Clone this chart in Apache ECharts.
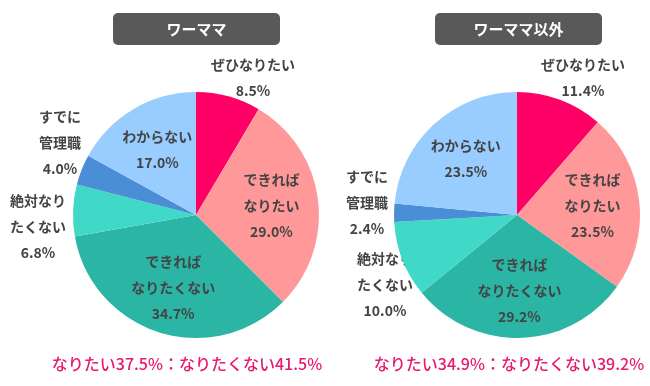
<!DOCTYPE html>
<html><head><meta charset="utf-8">
<script src="https://cdn.jsdelivr.net/npm/echarts@6/dist/echarts.min.js"></script>
<style>html,body{margin:0;padding:0;background:#fff}#c{width:650px;height:386px}</style>
</head><body><div id="c"></div>
<script>
const categories = ['ぜひなりたい','できればなりたい','できればなりたくない','絶対なりたくない','すでに管理職','わからない'];
const labelNames = ['ぜひなりたい','できれば\nなりたい','できれば\nなりたくない','絶対なり\nたくない','すでに\n管理職','わからない'];
const workingMomValues = [8.5, 29.0, 34.7, 6.8, 4.0, 17.0];
const otherValues = [11.4, 23.5, 29.2, 10.0, 2.4, 23.5];
const titles = ['ワーママ', 'ワーママ以外'];
const summaries = ['なりたい37.5%：なりたくない41.5%', 'なりたい34.9%：なりたくない39.2%'];
const colors = ['#FF0066','#FF9999','#2BB5A5','#40D9C8','#4A8FD6','#99CCFF'];
const outsideIdx = [0, 3, 4];

const FONT = '"Noto Sans CJK JP","Noto Sans",sans-serif';
const chart = echarts.init(document.getElementById('c'));

function pieData(vals) {
  return vals.map((v, i) => ({name: categories[i], value: v, itemStyle: {color: colors[i]}}));
}
function labelData(vals) {
  return vals.map((v, i) => ({
    name: categories[i], value: v,
    itemStyle: {color: 'rgba(0,0,0,0)'},
    label: {show: outsideIdx.indexOf(i) < 0}
  }));
}
function labelFmt(p) {
  const i = categories.indexOf(p.name);
  return labelNames[i] + '\n' + p.value.toFixed(1) + '%';
}
const labelStyle = {show:true, position:'inside', formatter: labelFmt, color:'#444', fontSize:14, fontWeight:'bold', fontFamily: FONT, lineHeight: 26};

// outside labels: [centerX, firstLineCenterY]
const outPos = [
  {0:[253,65], 3:[38,201], 4:[60,117]},
  {0:[583,65], 3:[385,259], 4:[367,177]}
];
const graphics = [];
[0,1].forEach(k => {
  const vals = k === 0 ? workingMomValues : otherValues;
  const bx = k === 0 ? 113 : 435;
  graphics.push({type:'rect', shape:{x:bx, y:13, width:167, height:32, r:5}, style:{fill:'#595959'}});
  graphics.push({type:'text', x: bx + 83.5, y: 29, style:{text: titles[k], fill:'#fff', font:'bold 15px ' + FONT, textAlign:'center', textVerticalAlign:'middle'}});
  graphics.push({type:'text', x: k === 0 ? 187 : 509, y: 364, style:{text: summaries[k], fill:'#E8176F', font:'500 16px ' + FONT, textAlign:'center', textVerticalAlign:'middle'}});
  outsideIdx.forEach(i => {
    const p = outPos[k][i];
    graphics.push({type:'text', x:p[0], y:p[1] - 13, style:{text: labelNames[i] + '\n' + vals[i].toFixed(1) + '%', fill:'#444', font:'bold 14px ' + FONT, lineHeight: 26, textAlign:'center', textVerticalAlign:'top'}});
  });
});

const common = {type:'pie', startAngle:90, clockwise:true, labelLine:{show:false}};
chart.setOption({
  animation:false,
  graphic: graphics,
  series: [
    Object.assign({}, common, {center:[196,215], radius:[0,123], label:{show:false}, data: pieData(workingMomValues)}),
    Object.assign({}, common, {center:[517,215], radius:[0,123], label:{show:false}, data: pieData(otherValues)}),
    Object.assign({}, common, {center:[196,215], radius:[0,146], silent:true, z:3, label: labelStyle, labelLayout:{hideOverlap:false}, data: labelData(workingMomValues)}),
    Object.assign({}, common, {center:[517,215], radius:[0,146], silent:true, z:3, label: labelStyle, labelLayout:{hideOverlap:false}, data: labelData(otherValues)})
  ]
});
</script></body></html>
